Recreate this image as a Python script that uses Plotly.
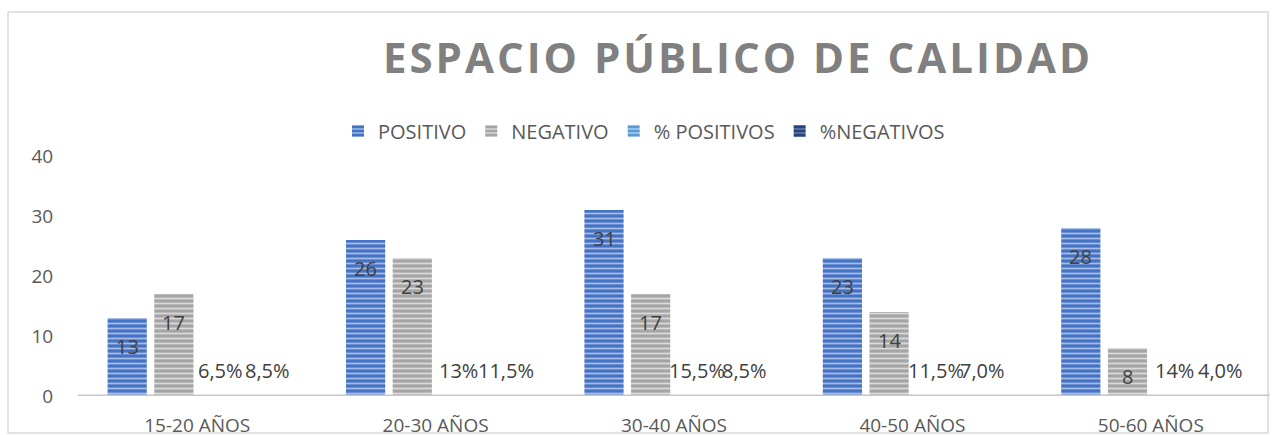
import plotly.graph_objects as go

categories = ["15-20 AÑOS", "20-30 AÑOS", "30-40 AÑOS", "40-50 AÑOS", "50-60 AÑOS"]
positivo = [13, 26, 31, 23, 28]
negativo = [17, 23, 17, 14, 8]
pct_positivos = [0.065, 0.13, 0.155, 0.115, 0.14]
pct_negativos = [0.085, 0.115, 0.085, 0.07, 0.04]
pct_pos_labels = ["6,5%", "13%", "15,5%", "11,5%", "14%"]
pct_neg_labels = ["8,5%", "11,5%", "8,5%", "7,0%", "4,0%"]
y_ticks = [0, 10, 20, 30, 40]

FONT = "Open Sans"
TXT = "#404040"
AX = "#595959"
BARGAP = 0.217
NTR = 4

fig = go.Figure()

series = [
    ("POSITIVO", positivo, "#4472C4", "#A9BEE6"),
    ("NEGATIVO", negativo, "#A5A5A5", "#DADADA"),
    ("% POSITIVOS", pct_positivos, "#5B9BD5", "#B4D0EC"),
    ("%NEGATIVOS", pct_negativos, "#264478", "#6B83B0"),
]
for name, vals, bg, fg in series:
    fig.add_trace(go.Bar(
        x=categories, y=vals, name=name,
        marker=dict(color=bg, line=dict(width=0),
                    pattern=dict(shape="-", bgcolor=bg, fgcolor=fg, size=5, solidity=0.35,
                                 fillmode="replace")),
    ))

slot = (1 - BARGAP) / NTR
offsets = [-(1 - BARGAP) / 2 + slot * (k + 0.5) for k in range(NTR)]

annotations = []
for i in range(len(categories)):
    for k, vals, shift in [(0, positivo, -28), (1, negativo, -28)]:
        annotations.append(dict(x=i + offsets[k], y=vals[i], xref="x", yref="y",
                                text=str(vals[i]), showarrow=False, yshift=shift,
                                font=dict(family=FONT, size=20, color=TXT)))
    annotations.append(dict(x=i + offsets[2], y=pct_positivos[i], xref="x", yref="y",
                            text=pct_pos_labels[i], showarrow=False, yshift=25,
                            font=dict(family=FONT, size=20, color=TXT)))
    annotations.append(dict(x=i + offsets[3], y=pct_negativos[i], xref="x", yref="y",
                            text=pct_neg_labels[i], showarrow=False, yshift=25,
                            font=dict(family=FONT, size=20, color=TXT)))

W, H = 1272, 435
L, R, T, B = 78, 2, 156, 39
pw, ph = W - L - R, H - T - B

def px_to_paper_x(px):
    return (px - L) / pw

def px_to_paper_y(py):
    return (H - B - py) / ph

fig.update_layout(
    width=W, height=H,
    margin=dict(l=L, r=R, t=T, b=B, pad=0, autoexpand=False),
    paper_bgcolor="white", plot_bgcolor="white",
    barmode="group", bargap=BARGAP, bargroupgap=0.16,
    title=dict(text="<b>ESPACIO PÚBLICO DE CALIDAD</b>", x=px_to_paper_x(738), xref="paper",
               xanchor="center", y=1 - 58 / H, yanchor="middle",
               font=dict(family=FONT, size=42, color="#808080")),
    legend=dict(orientation="h", x=px_to_paper_x(644), xanchor="center",
                y=px_to_paper_y(131), yanchor="middle",
                font=dict(family=FONT, size=20, color=AX),
                itemclick=False, tracegroupgap=0, itemwidth=30),
    xaxis=dict(showline=False, showgrid=False, automargin=False,
               ticks="outside", ticklen=12, tickcolor="rgba(0,0,0,0)",
               tickfont=dict(family=FONT, size=19, color=AX)),
    yaxis=dict(range=[0, 40], tickvals=y_ticks, showgrid=False, zeroline=False,
               showline=False, automargin=False, ticks="outside", ticklen=20,
               tickcolor="rgba(0,0,0,0)",
               tickfont=dict(family=FONT, size=19, color=AX)),
    annotations=annotations,
    shapes=[
        dict(type="rect", xref="paper", yref="paper",
             x0=px_to_paper_x(8), x1=px_to_paper_x(1268),
             y0=px_to_paper_y(433), y1=px_to_paper_y(12),
             line=dict(color="#D9D9D9", width=1.5), fillcolor="rgba(0,0,0,0)",
             layer="below"),
        dict(type="line", xref="paper", yref="y", x0=0, x1=1, y0=0, y1=0,
             line=dict(color="#C8C8C8", width=3), layer="above"),
    ],
)

post = """
document.body.style.margin = '0';
document.body.style.overflow = 'hidden';
var t = document.querySelectorAll('.gtitle');
t.forEach(function(e){ e.style.letterSpacing = '3px'; });
"""
fig.write_html("out.html", post_script=post, config={"displayModeBar": False})
